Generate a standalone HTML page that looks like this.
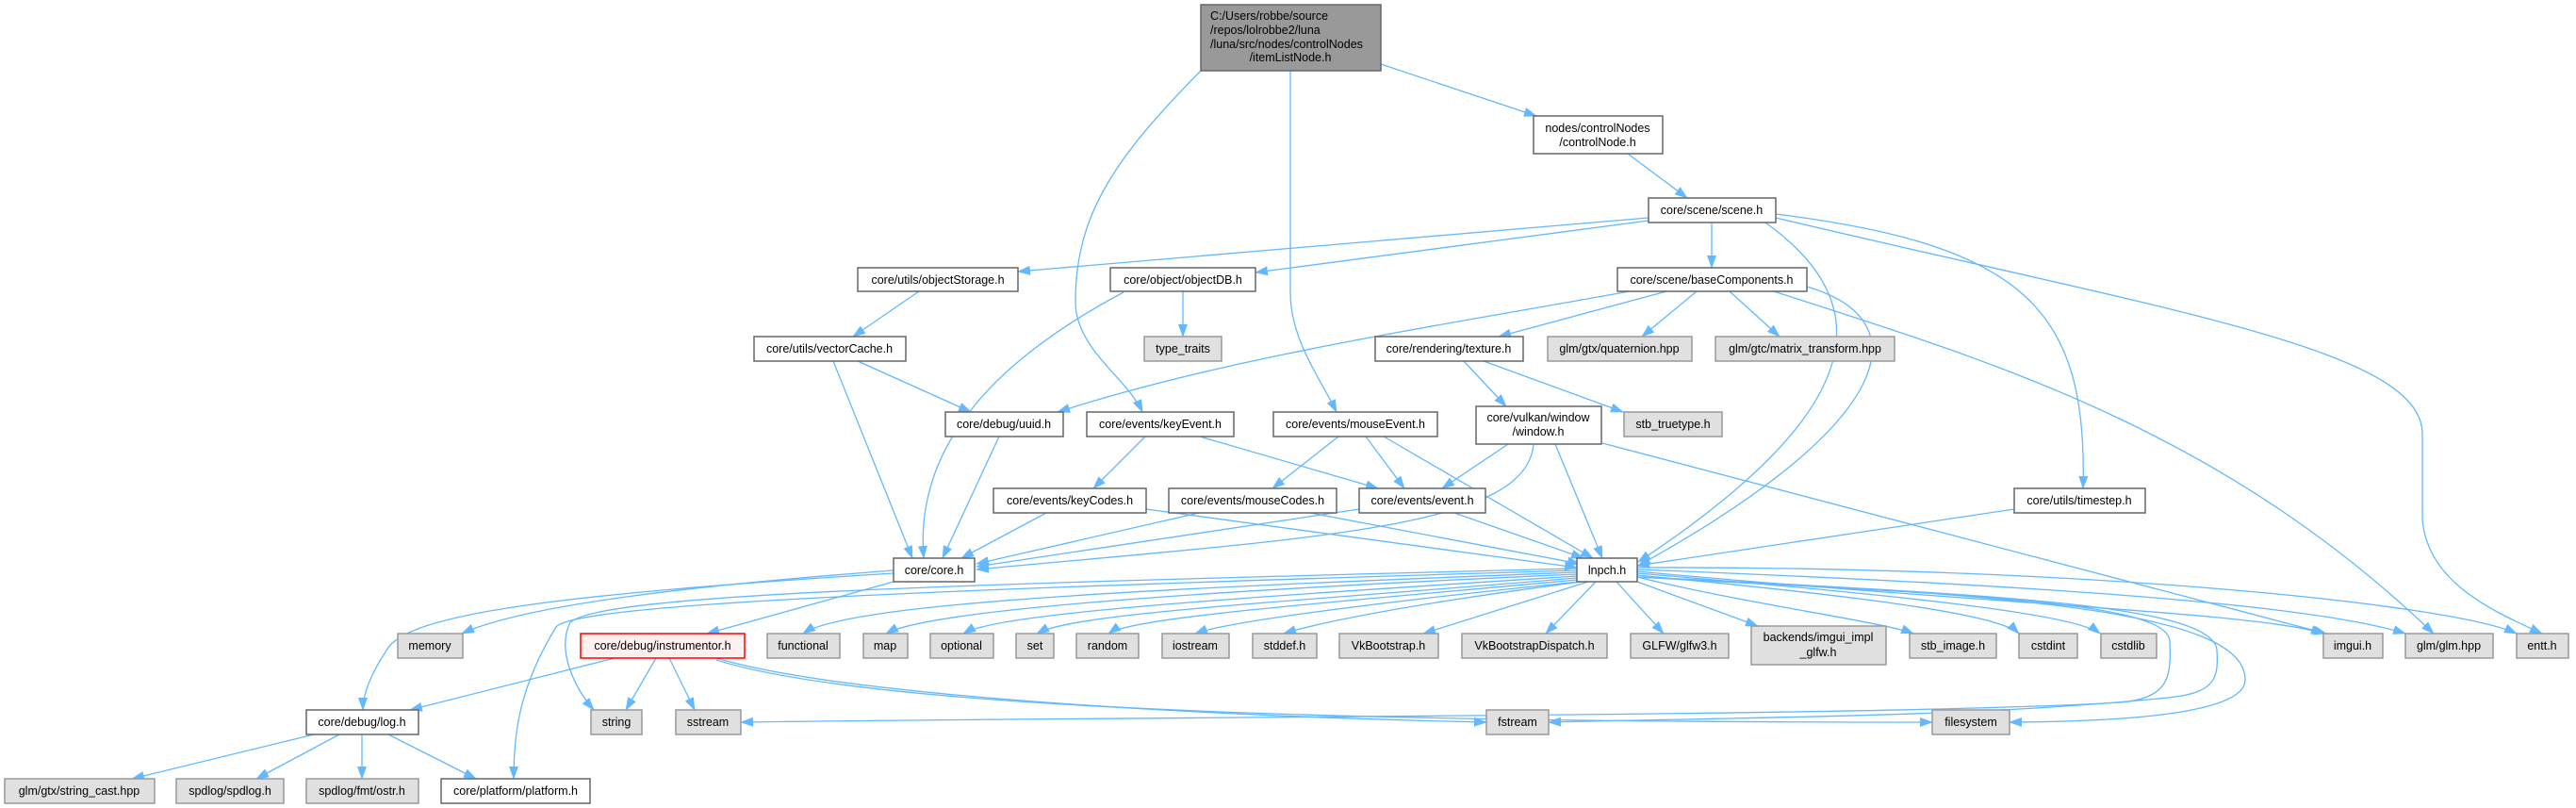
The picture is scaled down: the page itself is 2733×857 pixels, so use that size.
<!DOCTYPE html>
<html><head><meta charset="utf-8"><style>
html,body{margin:0;padding:0;background:#fff;}
svg{display:block;}
text{font-family:"Liberation Sans",sans-serif;font-size:12.5px;fill:#000;}
.n{fill:#fff;stroke:#666;stroke-width:1.5;}
.g{fill:#e0e0e0;stroke:#999;stroke-width:1.5;}
.e{fill:none;stroke:#63b8ff;stroke-width:1.3;}
</style></head><body>
<svg width="2733" height="857" viewBox="0 0 2733 857" xmlns="http://www.w3.org/2000/svg">
<defs><marker id="a" markerWidth="14" markerHeight="10" refX="13" refY="5" orient="auto" markerUnits="userSpaceOnUse"><path d="M0,0L14,5L0,10z" fill="#63b8ff"/></marker></defs>
<g class="e" marker-end="url(#a)">
<path d="M1465,68L1630,123"/>
<path d="M1274,75C1180,170 1141,230 1141,320C1141,370 1195,400 1212,437"/>
<path d="M1369,75L1369,310C1369,360 1400,400 1418,437"/>
<path d="M1727,163L1790,210"/>
<path d="M1749,231L1080,288"/>
<path d="M1749,234L1332,289"/>
<path d="M1816,236L1816,284"/>
<path d="M1873,236C1990,320 1990,430 1738,596"/>
<path d="M1884,227C2150,260 2215,330 2210,518"/>
<path d="M1884,231C2300,330 2570,370 2570,460L2570,550C2575,620 2650,650 2697,672"/>
<path d="M1882,309C2100,380 2350,450 2582,672"/>
<path d="M1917,304C2040,340 2010,450 1738,600"/>
<path d="M1729,309C1500,350 1300,380 1122,437"/>
<path d="M1768,309L1590,357"/>
<path d="M1800,309L1742,357"/>
<path d="M1835,309L1888,357"/>
<path d="M1553,383L1598,431"/>
<path d="M1574,383L1722,437"/>
<path d="M975,309L905,357"/>
<path d="M1255,309L1255,357"/>
<path d="M1192,310C1060,380 970,470 980,592"/>
<path d="M884,383L968,592"/>
<path d="M910,383L1030,437"/>
<path d="M1060,463L1000,592"/>
<path d="M1215,463L1160,518"/>
<path d="M1273,463L1462,518"/>
<path d="M1420,463L1350,518"/>
<path d="M1449,463L1490,518"/>
<path d="M1468,463L1690,592"/>
<path d="M1600,471L1530,518"/>
<path d="M1627,471C1620,560 1400,570 1036,604"/>
<path d="M1650,471L1700,592"/>
<path d="M1700,470L2468,672"/>
<path d="M1110,544L1020,592"/>
<path d="M1216,540L1673,602"/>
<path d="M1272,544L1036,598"/>
<path d="M1390,544L1676,598"/>
<path d="M1442,540L1036,601"/>
<path d="M1543,544L1680,592"/>
<path d="M2137,540L1737,600"/>
<path d="M948,605C750,620 560,640 490,672"/>
<path d="M948,608C600,630 430,650 410,690C390,720 385,740 385,753"/>
<path d="M948,617L750,672"/>
<path d="M652,698L435,753"/>
<path d="M696,698L664,753"/>
<path d="M710,698L737,753"/>
<path d="M760,698C900,740 1300,760 1577,766"/>
<path d="M760,700C950,760 1600,766 2050,766"/>
<path d="M333,779L140,826"/>
<path d="M360,779L272,826"/>
<path d="M384,779L384,826"/>
<path d="M412,779L505,826"/>
<path d="M1673,603C1000,620 640,630 605,660C590,690 610,730 630,753"/>
<path d="M1673,605C1000,625 610,640 590,665C550,730 545,780 545,826"/>
<path d="M1673,607C1200,625 900,640 852,672"/>
<path d="M1673,609C1200,630 980,650 940,672"/>
<path d="M1673,611C1300,635 1060,650 1022,672"/>
<path d="M1673,613C1350,640 1140,650 1100,672"/>
<path d="M1673,615C1400,640 1200,655 1176,672"/>
<path d="M1675,617C1450,640 1300,660 1268,672"/>
<path d="M1678,617C1500,640 1400,660 1362,672"/>
<path d="M1685,617L1510,672"/>
<path d="M1693,617L1640,672"/>
<path d="M1715,617L1765,672"/>
<path d="M1737,617L1865,664"/>
<path d="M1737,612C1850,640 2000,660 2030,672"/>
<path d="M1737,610C1950,630 2120,650 2142,672"/>
<path d="M1737,608C2000,630 2200,650 2228,672"/>
<path d="M1737,606C2100,640 2400,650 2465,672"/>
<path d="M1737,604C2150,620 2450,640 2552,672"/>
<path d="M1737,602C2200,600 2600,640 2670,672"/>
<path d="M1737,612C2050,630 2300,635 2302,680C2304,720 2300,740 2250,745C2000,760 1200,760 786,766"/>
<path d="M1737,612C2100,630 2350,640 2352,690C2354,720 2350,735 2300,740C2100,760 1900,760 1643,766"/>
<path d="M1737,612C2150,630 2380,650 2382,720C2384,750 2300,765 2132,766"/>
</g>
<rect x="1274" y="5" width="191" height="70" fill="#999" stroke="#666" stroke-width="1.5"/>
<text x="1284" y="21">C:/Users/robbe/source</text>
<text x="1284" y="36">/repos/lolrobbe2/luna</text>
<text x="1284" y="51">/luna/src/nodes/controlNodes</text>
<text x="1369" y="65" text-anchor="middle">/itemListNode.h</text>
<g text-anchor="middle">
<rect class="n" x="1627" y="123" width="137" height="40"/><text x="1695" y="140">nodes/controlNodes</text><text x="1695" y="155">/controlNode.h</text>
<rect class="n" x="1749" y="210" width="135" height="26"/><text x="1816" y="227">core/scene/scene.h</text>
<rect class="n" x="910" y="284" width="170" height="25"/><text x="995" y="301">core/utils/objectStorage.h</text>
<rect class="n" x="1178" y="284" width="154" height="25"/><text x="1255" y="301">core/object/objectDB.h</text>
<rect class="n" x="1716" y="284" width="201" height="25"/><text x="1816" y="301">core/scene/baseComponents.h</text>
<rect class="n" x="800" y="357" width="161" height="26"/><text x="880" y="374">core/utils/vectorCache.h</text>
<rect class="g" x="1214" y="357" width="82" height="26"/><text x="1255" y="374">type_traits</text>
<rect class="n" x="1459" y="357" width="157" height="26"/><text x="1537" y="374">core/rendering/texture.h</text>
<rect class="g" x="1642" y="357" width="153" height="26"/><text x="1718" y="374">glm/gtx/quaternion.hpp</text>
<rect class="g" x="1820" y="357" width="190" height="26"/><text x="1915" y="374">glm/gtc/matrix_transform.hpp</text>
<rect class="n" x="1003" y="437" width="125" height="26"/><text x="1065" y="454">core/debug/uuid.h</text>
<rect class="n" x="1153" y="437" width="156" height="26"/><text x="1231" y="454">core/events/keyEvent.h</text>
<rect class="n" x="1351" y="437" width="174" height="26"/><text x="1438" y="454">core/events/mouseEvent.h</text>
<rect class="n" x="1566" y="431" width="133" height="40"/><text x="1632" y="447">core/vulkan/window</text><text x="1632" y="462">/window.h</text>
<rect class="g" x="1723" y="437" width="104" height="26"/><text x="1775" y="454">stb_truetype.h</text>
<rect class="n" x="1054" y="518" width="162" height="26"/><text x="1135" y="535">core/events/keyCodes.h</text>
<rect class="n" x="1240" y="518" width="178" height="26"/><text x="1329" y="535">core/events/mouseCodes.h</text>
<rect class="n" x="1442" y="518" width="134" height="26"/><text x="1509" y="535">core/events/event.h</text>
<rect class="n" x="2137" y="518" width="139" height="26"/><text x="2206" y="535">core/utils/timestep.h</text>
<rect class="n" x="948" y="592" width="86" height="25"/><text x="991" y="609">core/core.h</text>
<rect class="n" x="1673" y="592" width="64" height="25"/><text x="1705" y="609">lnpch.h</text>
<rect class="g" x="422" y="672" width="69" height="26"/><text x="456" y="689">memory</text>
<rect x="616" y="672" width="174" height="26" fill="#fff0f0" stroke="#f00" stroke-width="1.5"/><text x="703" y="689">core/debug/instrumentor.h</text>
<rect class="g" x="814" y="672" width="77" height="26"/><text x="852" y="689">functional</text>
<rect class="g" x="916" y="672" width="47" height="26"/><text x="939" y="689">map</text>
<rect class="g" x="987" y="672" width="67" height="26"/><text x="1020" y="689">optional</text>
<rect class="g" x="1078" y="672" width="40" height="26"/><text x="1098" y="689">set</text>
<rect class="g" x="1142" y="672" width="66" height="26"/><text x="1175" y="689">random</text>
<rect class="g" x="1233" y="672" width="71" height="26"/><text x="1268" y="689">iostream</text>
<rect class="g" x="1329" y="672" width="68" height="26"/><text x="1363" y="689">stddef.h</text>
<rect class="g" x="1421" y="672" width="105" height="26"/><text x="1473" y="689">VkBootstrap.h</text>
<rect class="g" x="1551" y="672" width="154" height="26"/><text x="1628" y="689">VkBootstrapDispatch.h</text>
<rect class="g" x="1730" y="672" width="104" height="26"/><text x="1782" y="689">GLFW/glfw3.h</text>
<rect class="g" x="1858" y="664" width="143" height="41"/><text x="1929" y="680">backends/imgui_impl</text><text x="1929" y="696">_glfw.h</text>
<rect class="g" x="2026" y="672" width="92" height="26"/><text x="2072" y="689">stb_image.h</text>
<rect class="g" x="2142" y="672" width="62" height="26"/><text x="2173" y="689">cstdint</text>
<rect class="g" x="2229" y="672" width="59" height="26"/><text x="2258" y="689">cstdlib</text>
<rect class="g" x="2465" y="672" width="63" height="26"/><text x="2496" y="689">imgui.h</text>
<rect class="g" x="2552" y="672" width="93" height="26"/><text x="2598" y="689">glm/glm.hpp</text>
<rect class="g" x="2670" y="672" width="55" height="26"/><text x="2697" y="689">entt.h</text>
<rect class="n" x="325" y="753" width="119" height="26"/><text x="384" y="770">core/debug/log.h</text>
<rect class="g" x="627" y="753" width="54" height="26"/><text x="654" y="770">string</text>
<rect class="g" x="717" y="753" width="69" height="26"/><text x="751" y="770">sstream</text>
<rect class="g" x="1577" y="753" width="66" height="26"/><text x="1610" y="770">fstream</text>
<rect class="g" x="2050" y="753" width="82" height="26"/><text x="2091" y="770">filesystem</text>
<rect class="g" x="5" y="826" width="159" height="26"/><text x="84" y="843">glm/gtx/string_cast.hpp</text>
<rect class="g" x="187" y="826" width="114" height="26"/><text x="244" y="843">spdlog/spdlog.h</text>
<rect class="g" x="325" y="826" width="119" height="26"/><text x="384" y="843">spdlog/fmt/ostr.h</text>
<rect class="n" x="468" y="826" width="158" height="26"/><text x="547" y="843">core/platform/platform.h</text>
</g>
</svg>
</body></html>
